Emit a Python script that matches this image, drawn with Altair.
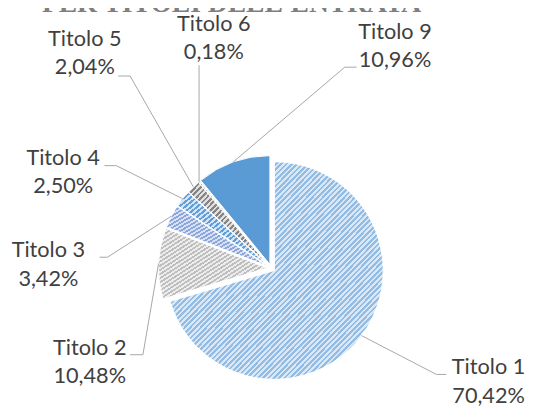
import altair as alt
import pandas as pd

# ---------------- data ----------------
categories = ["Titolo 1", "Titolo 2", "Titolo 3", "Titolo 4", "Titolo 5", "Titolo 6", "Titolo 9"]
shares = [70.42, 10.48, 3.42, 2.50, 2.04, 0.18, 10.96]
title_text = "PER TITOLI DELL'ENTRATA"

# ---------------- style ----------------
W, H = 526, 399
CX, CY = 267.3, 261.1      # pie centre (chart coords)
R = 110.5                  # pie radius
EXPLODE = 4                # explode distance
# (light colour, dark stripe colour, number of stripes) ; None -> solid
FILLS = {
    "Titolo 1": ("#DAE8F6", "#92BCE3", 80),
    "Titolo 2": ("#EDEDED", "#BEBEBE", 34),
    "Titolo 3": ("#D9E1F4", "#8AA6DA", 30),
    "Titolo 4": ("#D3E4F4", "#629FD8", 30),
    "Titolo 5": ("#E0E0E0", "#858585", 30),
    "Titolo 6": ("#E0E0E0", "#858585", 28),
    "Titolo 9": None,
}
SOLID = "#5B9BD5"
# label layout, offsets from pie centre: text (x, first baseline y), leader end, leader elbow
LABELS = {
    "Titolo 1": ((220.7, 107.9), (177.7, 107.9), (167.7, 107.9)),
    "Titolo 2": ((-184.3, 87.9), (-143.3, 87.9), (-130.3, 87.9)),
    "Titolo 3": ((-226.3, -11.1), (-174.3, -11.1), (-166.3, -11.1)),
    "Titolo 4": ((-211.3, -105.1), (-169.3, -104.1), (-157.3, -104.1)),
    "Titolo 5": ((-189.3, -226.1), (-155.3, -195.1), (-143.3, -195.1)),
    "Titolo 6": ((-58.3, -241.1), (-73.3, -206.1), (-73.3, -206.1)),
    "Titolo 9": ((125.7, -233.1), (86.7, -204.1), (74.7, -204.1)),
}


def stripes(light, dark, n):
    stops = []
    for i in range(n):
        a, b, c = i / n, (i + 0.5) / n, (i + 1) / n
        stops += [
            {"color": dark, "offset": a},
            {"color": dark, "offset": b},
            {"color": light, "offset": b},
            {"color": light, "offset": c},
        ]
    return {"gradient": "linear", "x1": 0, "y1": 0, "x2": 1, "y2": 1, "stops": stops}


df = pd.DataFrame({
    "cat": categories,
    "share": shares,
    "idx": list(range(len(categories))),
    "ldx": [LABELS[c][0][0] for c in categories],
    "ldy": [LABELS[c][0][1] for c in categories],
    "hdx": [LABELS[c][1][0] for c in categories],
    "hdy": [LABELS[c][1][1] for c in categories],
    "edx": [LABELS[c][2][0] for c in categories],
    "edy": [LABELS[c][2][1] for c in categories],
})

base = (
    alt.Chart(df)
    .transform_window(cum="sum(share)", sort=[alt.SortField("idx")], frame=[None, 0])
    .transform_calculate(end="datum.cum", start="datum.cum - datum.share")
    .transform_calculate(mid="(datum.start + datum.end) / 200 * 2 * PI")
    .transform_calculate(
        ox=f"{CX} + {EXPLODE} * sin(datum.mid)",
        oy=f"{CY} - {EXPLODE} * cos(datum.mid)",
        px=f"{CX} + {EXPLODE + R} * sin(datum.mid)",
        py=f"{CY} - {EXPLODE + R} * cos(datum.mid)",
        tx=f"{CX} + datum.ldx",
        ty=f"{CY} + datum.ldy",
        hx=f"{CX} + datum.hdx",
        hy=f"{CY} + datum.hdy",
        ex=f"{CX} + datum.edx",
        ey=f"{CY} + datum.edy",
        label="datum.cat + '\\n' + replace(format(datum.share, '.2f'), '.', ',') + '%'",
    )
)

theta_scale = alt.Scale(domain=[0, 100], range=[0, 6.283185307179586])
layers = []
for c in categories:
    f = FILLS[c]
    fill = SOLID if f is None else stripes(*f)
    layers.append(
        base.transform_filter(alt.datum.cat == c)
        .mark_arc(outerRadius=R, fill=fill, stroke="white", strokeWidth=1)
        .encode(
            theta=alt.Theta("start:Q", stack=None, scale=theta_scale),
            theta2="end:Q",
            x=alt.X("ox:Q", scale=None),
            y=alt.Y("oy:Q", scale=None),
        )
    )

lead1 = base.mark_rule(color="#A6A6A6", strokeWidth=1).encode(
    x=alt.X("px:Q", scale=None), y=alt.Y("py:Q", scale=None), x2="ex:Q", y2="ey:Q"
)
lead2 = base.mark_rule(color="#A6A6A6", strokeWidth=1).encode(
    x=alt.X("ex:Q", scale=None), y=alt.Y("ey:Q", scale=None), x2="hx:Q", y2="hy:Q"
)
labels = base.mark_text(
    align="center", baseline="alphabetic", font="Lato", fontSize=22,
    color="#404040", lineBreak="\n", lineHeight=29,
).encode(x=alt.X("tx:Q", scale=None), y=alt.Y("ty:Q", scale=None), text="label:N")

title = alt.Chart(pd.DataFrame({"t": [title_text]})).mark_text(
    align="center", baseline="alphabetic", font="Liberation Serif", fontSize=28,
    fontWeight="bold", color="#7F7F7F",
).encode(x=alt.value(227), y=alt.value(1), text="t:N")

chart = alt.layer(*layers, lead1, lead2, labels, title).properties(
    width=W, height=H, padding=0, autosize=alt.AutoSizeParams(type="none")
).configure_view(stroke=None)

chart.save("out.html", embed_options={"renderer": "svg", "actions": False})
